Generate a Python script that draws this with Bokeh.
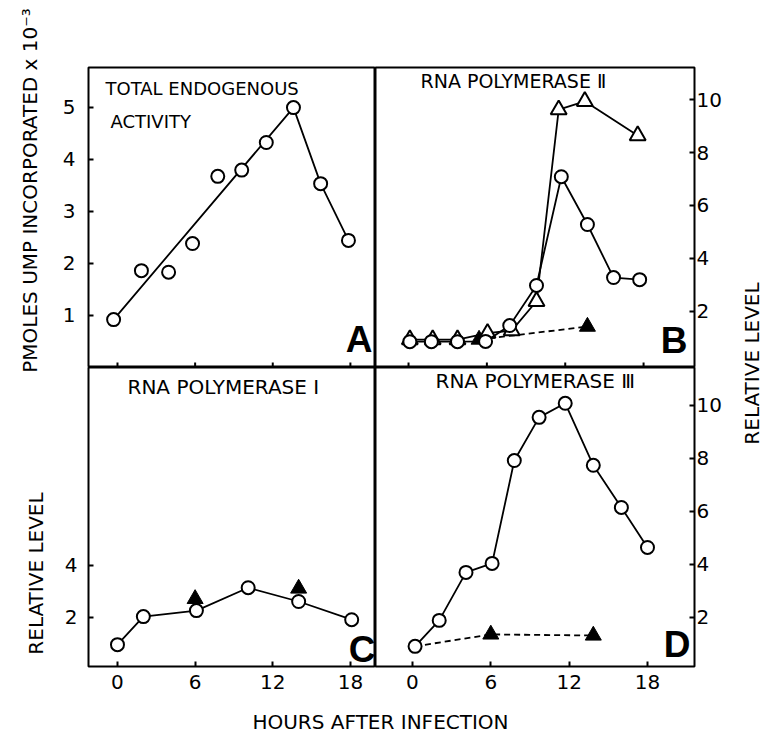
import math
from bokeh.plotting import figure
from bokeh.models import Range1d, Label, FixedTicker
from bokeh.layouts import row, column
from bokeh.embed import file_html
from bokeh.resources import INLINE

# ---------------- data ----------------
hour_ticks = [0, 6, 12, 18]

# Panel A: total endogenous activity (pmoles UMP x 10^-3)
a_hours = [-0.3, 1.85, 3.95, 5.8, 7.75, 9.6, 11.5, 13.6, 15.7, 17.85]
a_ump = [0.92, 1.86, 1.83, 2.38, 3.67, 3.79, 4.32, 4.99, 3.53, 2.44]
a_line_idx = [0, 7, 8, 9]          # drawn line: first point -> peak -> decline
a_ticks = [1, 2, 3, 4, 5]

# Panel B: RNA polymerase II (relative level)
b_circ_hours = [0.1, 1.75, 3.75, 5.9, 7.75, 9.8, 11.7, 13.7, 15.7, 17.7]
b_circ_rel = [0.84, 0.84, 0.84, 0.85, 1.45, 2.97, 7.09, 5.28, 3.27, 3.19]
b_tri_hours = [0.1, 1.85, 3.75, 6.05, 7.9, 9.8, 11.5, 13.5, 17.55]
b_tri_rel = [0.92, 0.92, 0.92, 1.16, 1.26, 2.37, 9.63, 9.95, 8.65]
b_ctrl_hours = [5.4, 13.7]
b_ctrl_rel = [0.92, 1.41]

# Panel C: RNA polymerase I
c_hours = [0.0, 2.0, 6.1, 10.1, 14.0, 18.1]
c_rel = [0.94, 2.02, 2.25, 3.13, 2.6, 1.9]
c_ctrl_hours = [6.0, 14.0]
c_ctrl_rel = [2.7, 3.1]
c_ticks = [2, 4]

# Panel D: RNA polymerase III
d_hours = [0.2, 2.05, 4.1, 6.1, 7.8, 9.7, 11.7, 13.85, 16.0, 18.0]
d_rel = [0.91, 1.89, 3.70, 4.04, 7.92, 9.55, 10.08, 7.74, 6.15, 4.64]
d_ctrl_hours = [6.0, 13.85]
d_ctrl_rel = [1.36, 1.32]
rel_ticks = [2, 4, 6, 8, 10]

# ---------------- layout geometry ----------------
FONT = "DejaVu Sans"
W, H = 763, 734
LEFT_STRIP = 50
RIGHT_STRIP = 28
COL_L = 375 - LEFT_STRIP          # 325
COL_R = W - LEFT_STRIP - RIGHT_STRIP - COL_L
TOP_H = 367
BOT_H = 333
BOTTOM_STRIP = H - TOP_H - BOT_H
TICK_LEN = 5

FR_A = (88, 67, 375, 367)
FR_B = (375, 67, 694, 367)
FR_C = (88, 367, 375, 666)
FR_D = (375, 367, 694, 666)

XR_AC = (-2.24, 19.94)
XR_B = (-2.53, 21.9)
XR_D = (-2.83, 21.6)
YR_A = (0.0, 5.76)
YR_B = (-0.14, 11.23)
YR_C = (0.1, 11.6)
YR_D = (0.15, 11.43)


def panel(width, height, left, right, top, bottom, xr, yr, yloc, xaxis=True):
    kw = {} if xaxis else {"x_axis_type": None}
    p = figure(width=width, height=height, x_range=Range1d(*xr), y_range=Range1d(*yr),
               output_backend="svg", toolbar_location=None, y_axis_location=yloc,
               min_border_left=left, min_border_right=right,
               min_border_top=top, min_border_bottom=bottom, **kw)
    p.grid.visible = False
    p.outline_line_color = "black"
    p.outline_line_width = 2
    p.background_fill_color = "white"
    p.border_fill_color = "white"
    return p


def style_axis(ax, ticks, standoff):
    ax.ticker = FixedTicker(ticks=ticks)
    ax.major_tick_in = TICK_LEN
    ax.major_tick_out = 0
    ax.major_tick_line_width = 2
    ax.major_tick_line_color = "black"
    ax.minor_tick_line_color = None
    ax.axis_line_color = None
    ax.major_label_text_font = FONT
    ax.major_label_text_font_size = "20px"
    ax.major_label_text_color = "black"
    ax.major_label_standoff = standoff


def bottom_ticks(p, frame, yr):
    # unlabelled inward ticks along the bottom edge of the upper panels
    h = frame[3] - frame[1]
    y0 = yr[0]
    y1 = yr[0] + TICK_LEN / h * (yr[1] - yr[0])
    p.segment(x0=hour_ticks, y0=[y0] * len(hour_ticks), x1=hour_ticks, y1=[y1] * len(hour_ticks),
              line_color="black", line_width=2)


def put(p, frame, xr, yr, X, Y, text, size, bold=False, align="left"):
    fx0, fy0, fx1, fy1 = frame
    x = xr[0] + (X - fx0) / (fx1 - fx0) * (xr[1] - xr[0])
    y = yr[0] + (fy1 - Y) / (fy1 - fy0) * (yr[1] - yr[0])
    p.add_layout(Label(x=x, y=y, text=text, text_font="Liberation Sans" if bold else FONT,
                       text_font_size=size, text_font_style="bold" if bold else "normal",
                       text_align=align, text_baseline="middle", text_color="black"))


def circles(p, x, y):
    p.scatter(x, y, marker="circle", size=13, fill_color="white", line_color="black", line_width=2)


def open_tri(p, x, y):
    p.scatter(x, y, marker="triangle", size=16, fill_color="white", line_color="black", line_width=2)


def filled_tri(p, x, y):
    p.scatter(x, y, marker="triangle", size=16, fill_color="black", line_color="black", line_width=1)


LW = 1.8

# ---------- Panel A ----------
pa = panel(COL_L, TOP_H, FR_A[0] - LEFT_STRIP, 0, FR_A[1], 0, XR_AC, YR_A, "left", xaxis=False)
style_axis(pa.yaxis[0], a_ticks, 13)
bottom_ticks(pa, FR_A, YR_A)
pa.line([a_hours[i] for i in a_line_idx], [a_ump[i] for i in a_line_idx], line_color="black", line_width=LW)
circles(pa, a_hours, a_ump)
put(pa, FR_A, XR_AC, YR_A, 105, 87.5, "TOTAL ENDOGENOUS", "18px")
put(pa, FR_A, XR_AC, YR_A, 110, 120.5, "ACTIVITY", "18px")
put(pa, FR_A, XR_AC, YR_A, 372, 339, "A", "37px", bold=True, align="right")

# ---------- Panel B ----------
pb = panel(COL_R, TOP_H, 0, W - RIGHT_STRIP - FR_B[2], FR_B[1], 0, XR_B, YR_B, "right", xaxis=False)
style_axis(pb.yaxis[0], rel_ticks, 2)
bottom_ticks(pb, FR_B, YR_B)
pb.line(b_ctrl_hours, b_ctrl_rel, line_color="black", line_width=LW, line_dash="6 4")
filled_tri(pb, b_ctrl_hours, b_ctrl_rel)
pb.line(b_tri_hours, b_tri_rel, line_color="black", line_width=LW)
open_tri(pb, b_tri_hours, b_tri_rel)
pb.line(b_circ_hours, b_circ_rel, line_color="black", line_width=LW)
circles(pb, b_circ_hours, b_circ_rel)
put(pb, FR_B, XR_B, YR_B, 420, 80, "RNA  POLYMERASE Ⅱ", "19px")
put(pb, FR_B, XR_B, YR_B, 687, 340, "B", "37px", bold=True, align="right")

# ---------- Panel C ----------
pc = panel(COL_L, BOT_H, FR_C[0] - LEFT_STRIP, 0, 0, BOT_H - (FR_C[3] - FR_C[1]), XR_AC, YR_C, "left")
style_axis(pc.xaxis[0], hour_ticks, 8)
style_axis(pc.yaxis[0], c_ticks, 11)
pc.line(c_hours, c_rel, line_color="black", line_width=LW)
filled_tri(pc, c_ctrl_hours, c_ctrl_rel)
circles(pc, c_hours, c_rel)
put(pc, FR_C, XR_AC, YR_C, 127, 386.5, "RNA POLYMERASE Ⅰ", "20px")
put(pc, FR_C, XR_AC, YR_C, 375, 648.5, "C", "37px", bold=True, align="right")

# ---------- Panel D ----------
pd_ = panel(COL_R, BOT_H, 0, W - RIGHT_STRIP - FR_D[2], 0, BOT_H - (FR_D[3] - FR_D[1]), XR_D, YR_D, "right")
style_axis(pd_.xaxis[0], hour_ticks, 8)
style_axis(pd_.yaxis[0], rel_ticks, 2)
pd_.line([d_hours[0]] + d_ctrl_hours, [d_rel[0]] + d_ctrl_rel, line_color="black", line_width=LW, line_dash="6 4")
filled_tri(pd_, d_ctrl_hours, d_ctrl_rel)
pd_.line(d_hours, d_rel, line_color="black", line_width=LW)
circles(pd_, d_hours, d_rel)
put(pd_, FR_D, XR_D, YR_D, 435, 380.5, "RNA POLYMERASE Ⅲ", "20px")
put(pd_, FR_D, XR_D, YR_D, 690, 644, "D", "37px", bold=True, align="right")


# ---------- strips holding the outer axis titles ----------
def strip(width, height, xr, yr):
    s = figure(width=width, height=height, x_range=Range1d(*xr), y_range=Range1d(*yr),
               x_axis_type=None, y_axis_type=None, output_backend="svg", toolbar_location=None,
               min_border=0, min_border_left=0, min_border_right=0, min_border_top=0, min_border_bottom=0)
    s.outline_line_color = None
    s.grid.visible = False
    s.background_fill_color = "white"
    s.border_fill_color = "white"
    return s


def title(s, x, y, text, angle):
    s.add_layout(Label(x=x, y=y, text=text, angle=angle, text_font=FONT, text_font_size="20px",
                       text_align="center", text_baseline="middle", text_color="black"))


left = strip(LEFT_STRIP, H, (0, LEFT_STRIP), (H, 0))
title(left, 29, 190, "PMOLES UMP INCORPORATED x 10⁻³", math.pi / 2)
title(left, 35, 573, "RELATIVE LEVEL", math.pi / 2)

right = strip(RIGHT_STRIP, H, (W - RIGHT_STRIP, W), (H, 0))
title(right, 751, 363, "RELATIVE LEVEL", math.pi / 2)

bottom = strip(COL_L + COL_R, BOTTOM_STRIP, (LEFT_STRIP, LEFT_STRIP + COL_L + COL_R), (H, H - BOTTOM_STRIP))
title(bottom, 380, 721, "HOURS AFTER INFECTION", 0)

layout = row(left, column(row(pa, pb), row(pc, pd_), bottom), right)

open("out.html", "w").write(file_html(layout, INLINE))
